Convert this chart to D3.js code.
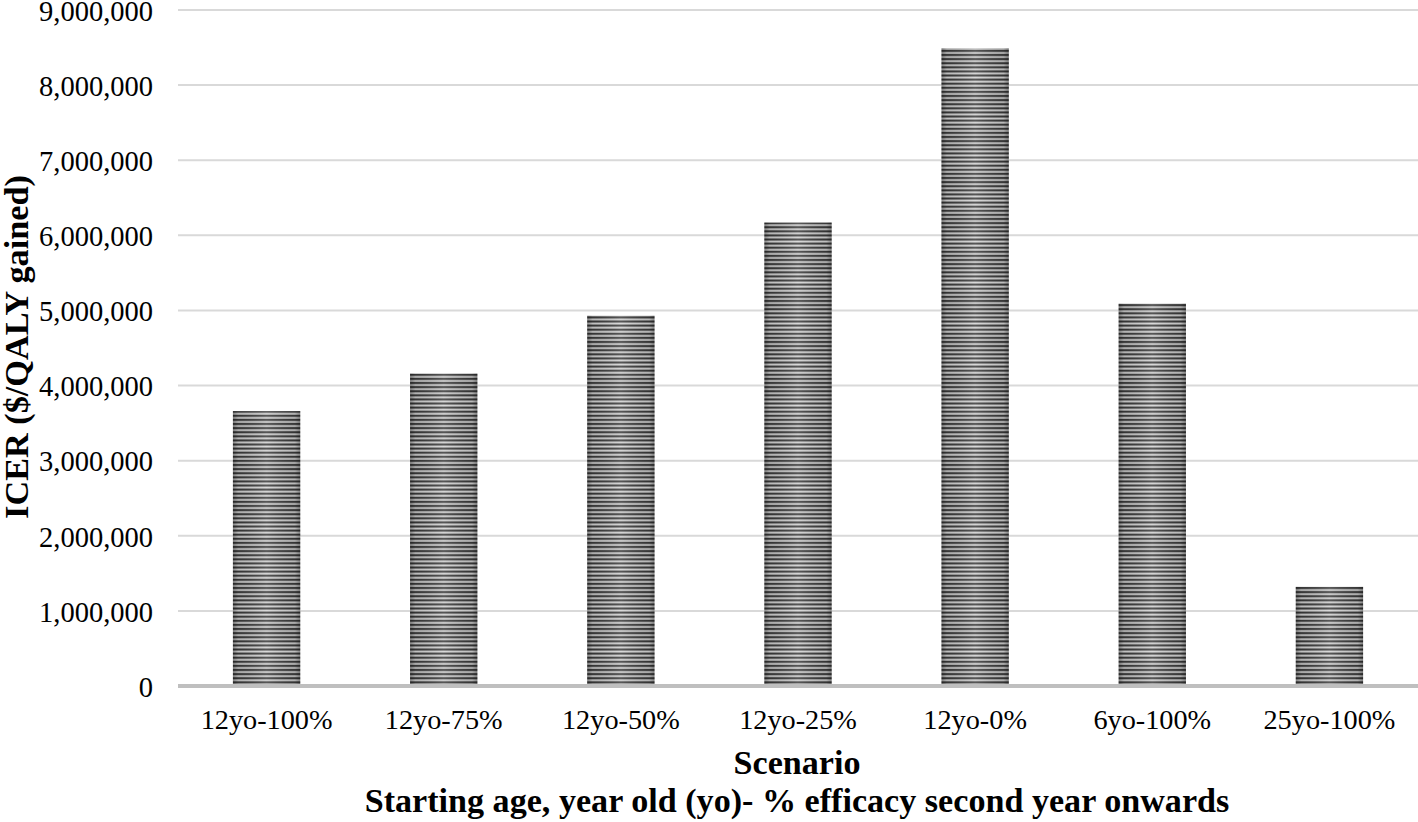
<!DOCTYPE html>
<html><head><meta charset="utf-8">
<script src="https://cdn.jsdelivr.net/npm/d3@7"></script>
<style>html,body{margin:0;padding:0;background:#fff;}</style>
</head><body>
<svg id="chart" width="1418" height="822"></svg>
<script>
const categories = ["12yo-100%","12yo-75%","12yo-50%","12yo-25%","12yo-0%","6yo-100%","25yo-100%"];
const values = [3660000, 4160000, 4930000, 6170000, 8490000, 5090000, 1320000];
const yTicks = [0,1000000,2000000,3000000,4000000,5000000,6000000,7000000,8000000,9000000];
const yTitle = "ICER ($/QALY gained)";
const xTitle1 = "Scenario";
const xTitle2 = "Starting age, year old (yo)- % efficacy second year onwards";

const FONT = "'Liberation Serif','Times New Roman',Times,serif";
const svg = d3.select("#chart");
const m = {left:178, right:0, top:10, bottom:136};
const W = 1418, H = 822;
const x = d3.scaleBand().domain(categories).range([m.left, W - m.right]).paddingInner(0.62).paddingOuter(0.31);
const y = d3.scaleLinear().domain([0, 9000000]).range([H - m.bottom, m.top]);

// measure a font size that gives a target width for a sample string
function fitSize(sample, target, weight) {
  const t = svg.append("text").style("font-family",FONT).style("font-size","100px")
    .style("font-weight",weight||"normal").text(sample);
  const w = t.node().getComputedTextLength();
  t.remove();
  return 100 * target / w;
}
const tickFs = fitSize("9,000,000", 114);
const xTickFs = fitSize("12yo-100%", 132);
const titleFs = fitSize(xTitle2, 865, "bold");
const yTitleFs = fitSize(yTitle, 344, "bold");

const defs = svg.append("defs");
const pat = defs.append("pattern").attr("id","stripes").attr("patternUnits","userSpaceOnUse")
  .attr("width",8).attr("height",4.1);
pat.append("rect").attr("width",8).attr("height",4.1).attr("fill","#d4d4d4");
pat.append("rect").attr("y",0.6).attr("width",8).attr("height",2.2).attr("fill","#3a3a3a");
const grad = defs.append("linearGradient").attr("id","shade").attr("x1","0").attr("x2","1").attr("y1","0").attr("y2","0");
grad.append("stop").attr("offset","0").attr("stop-color","#000").attr("stop-opacity",0.35);
grad.append("stop").attr("offset","0.08").attr("stop-color","#000").attr("stop-opacity",0.1);
grad.append("stop").attr("offset","0.5").attr("stop-color","#fff").attr("stop-opacity",0.15);
grad.append("stop").attr("offset","0.92").attr("stop-color","#000").attr("stop-opacity",0.1);
grad.append("stop").attr("offset","1").attr("stop-color","#000").attr("stop-opacity",0.35);

// y axis labels
const yAxis = d3.axisLeft(y).tickValues(yTicks).tickSize(0).tickPadding(0)
  .tickFormat(d3.format(","));
const gy = svg.append("g").attr("transform",`translate(${m.left},0)`).call(yAxis);
gy.select(".domain").remove();
gy.selectAll(".tick text").attr("x",-25).attr("dy","0.36em")
  .style("font-family",FONT).style("font-size",tickFs+"px").attr("fill","#000");
// gridlines
svg.append("g").selectAll("line").data(yTicks.filter(d=>d>0)).join("line")
  .attr("x1",m.left).attr("x2",W).attr("y1",d=>y(d)).attr("y2",d=>y(d))
  .attr("stroke","#d9d9d9").attr("stroke-width",2);

// bars
const bars = svg.append("g");
bars.selectAll("rect.b").data(values).join("rect").attr("class","b")
  .attr("x",(d,i)=>x(categories[i])).attr("width",x.bandwidth())
  .attr("y",d=>y(d)).attr("height",d=>y(0)-y(d)).attr("fill","url(#stripes)");
bars.selectAll("rect.s").data(values).join("rect").attr("class","s")
  .attr("x",(d,i)=>x(categories[i])).attr("width",x.bandwidth())
  .attr("y",d=>y(d)).attr("height",d=>y(0)-y(d)).attr("fill","url(#shade)");

// x axis
const xAxis = d3.axisBottom(x).tickSize(0).tickPadding(0);
const gx = svg.append("g").attr("transform",`translate(0,${y(0)})`).call(xAxis);
gx.select(".domain").remove();
gx.selectAll(".tick text").attr("y",34).attr("dy","0.32em")
  .style("font-family",FONT).style("font-size",xTickFs+"px").attr("fill","#000");
svg.append("line").attr("x1",m.left).attr("x2",W).attr("y1",y(0)).attr("y2",y(0))
  .attr("stroke","#bfbfbf").attr("stroke-width",4);

// titles
svg.append("text").attr("transform",`translate(28,347) rotate(-90)`)
  .attr("text-anchor","middle").style("font-family",FONT)
  .style("font-size",yTitleFs+"px").style("font-weight","bold").text(yTitle);
svg.append("text").attr("x",797).attr("y",774).attr("text-anchor","middle")
  .style("font-family",FONT)
  .style("font-size",titleFs+"px").style("font-weight","bold").text(xTitle1);
svg.append("text").attr("x",797).attr("y",812).attr("text-anchor","middle")
  .style("font-family",FONT)
  .style("font-size",titleFs+"px").style("font-weight","bold").text(xTitle2);
</script>
</body></html>
